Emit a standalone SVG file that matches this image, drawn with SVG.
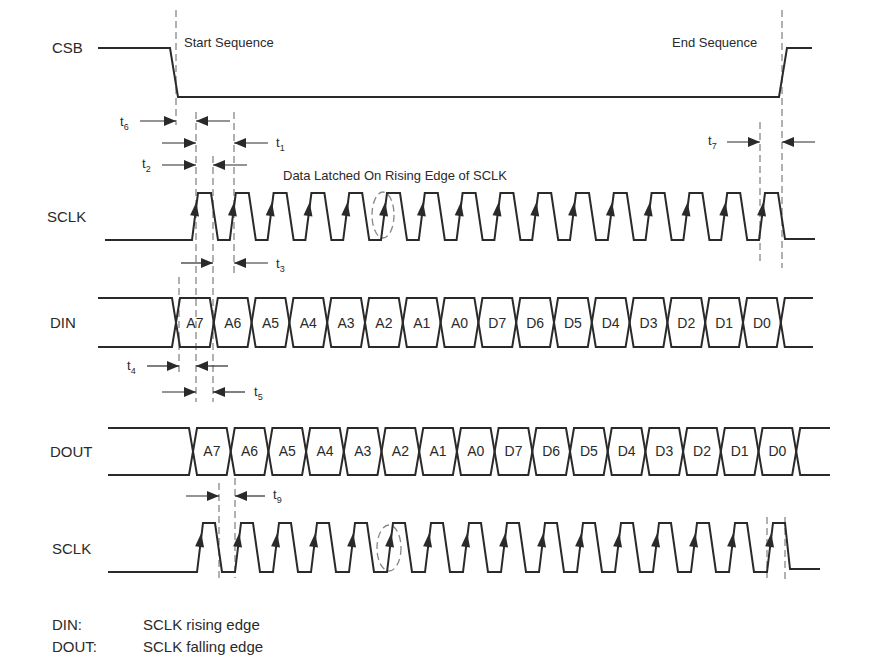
<svg xmlns="http://www.w3.org/2000/svg" width="887" height="663" viewBox="0 0 887 663">
<defs>
<style>
.sig{fill:none;stroke:#2a2a2a;stroke-width:2}
.dash{fill:none;stroke:#888;stroke-width:1.3;stroke-dasharray:7,4}
.dim{fill:none;stroke:#2a2a2a;stroke-width:1.2;marker-end:url(#ah)}
text{font-family:"Liberation Sans",Arial,sans-serif;fill:#2a2a2a}
.lbl{font-size:15px}
.cell{font-size:14px;text-anchor:middle}
.t{font-size:13px}
.sub{font-size:9px}
</style>
<marker id="ah" markerWidth="12" markerHeight="10" refX="12" refY="5" orient="auto" markerUnits="userSpaceOnUse"><path d="M0,0 L12,5 L0,10 Z" fill="#2a2a2a"/></marker>
<path id="up" d="M0,0 L-4.5,14 L4.5,14 Z" fill="#2a2a2a" transform="rotate(7)"/>
</defs>
<rect width="887" height="663" fill="#fff"/>

<g id="labels">
<text class="lbl" x="52" y="53">CSB</text>
<text class="t" x="184" y="47">Start Sequence</text>
<text class="t" x="672" y="47">End Sequence</text>
<text class="lbl" x="47" y="222">SCLK</text>
<text class="lbl" x="50" y="328">DIN</text>
<text class="lbl" x="50" y="457">DOUT</text>
<text class="lbl" x="52" y="554">SCLK</text>
<text class="t" x="283" y="180">Data Latched On Rising Edge of SCLK</text>
<text class="lbl" x="52" y="630">DIN:</text>
<text class="lbl" x="143" y="630">SCLK rising edge</text>
<text class="lbl" x="52" y="652">DOUT:</text>
<text class="lbl" x="143" y="652">SCLK falling edge</text>
</g>

<g id="dashes">
<line class="dash" x1="176" y1="10" x2="176" y2="125"/>
<line class="dash" x1="782" y1="10" x2="782" y2="268"/>
<line class="dash" x1="760" y1="122" x2="760" y2="265"/>
<line class="dash" x1="196" y1="112" x2="196" y2="402"/>
<line class="dash" x1="234" y1="112" x2="234" y2="277"/>
<line class="dash" x1="213" y1="156" x2="213" y2="402"/>
<line class="dash" x1="179" y1="277" x2="179" y2="372"/>
<line class="dash" x1="219" y1="483" x2="219" y2="578"/>
<line class="dash" x1="235" y1="478" x2="235" y2="578"/>
<line class="dash" x1="767" y1="517" x2="767" y2="578"/>
<line class="dash" x1="785" y1="517" x2="785" y2="580"/>
<ellipse class="dash" cx="383" cy="215" rx="11" ry="23"/>
<ellipse class="dash" cx="389" cy="548" rx="12" ry="23"/>
</g>

<g id="connectors">
<line class="dim" x1="140" y1="121" x2="176" y2="121"/>
<line class="dim" x1="230" y1="121" x2="196" y2="121"/>
<line class="dim" x1="162" y1="143" x2="196" y2="143"/>
<line class="dim" x1="268" y1="143" x2="234" y2="143"/>
<line class="dim" x1="162" y1="165" x2="196" y2="165"/>
<line class="dim" x1="247" y1="165" x2="213" y2="165"/>
<line class="dim" x1="181" y1="263" x2="213" y2="263"/>
<line class="dim" x1="268" y1="263" x2="234" y2="263"/>
<line class="dim" x1="147" y1="366" x2="179" y2="366"/>
<line class="dim" x1="228" y1="366" x2="196" y2="366"/>
<line class="dim" x1="162" y1="392" x2="196" y2="392"/>
<line class="dim" x1="245" y1="392" x2="213" y2="392"/>
<line class="dim" x1="727" y1="142" x2="760" y2="142"/>
<line class="dim" x1="815" y1="142" x2="782" y2="142"/>
<line class="dim" x1="186" y1="496" x2="219" y2="496"/>
<line class="dim" x1="265" y1="496" x2="235" y2="496"/>
</g>

<g id="tlabels">
<text class="t" x="120" y="126">t<tspan class="sub" dy="4">6</tspan></text>
<text class="t" x="276" y="147">t<tspan class="sub" dy="4">1</tspan></text>
<text class="t" x="142" y="168">t<tspan class="sub" dy="4">2</tspan></text>
<text class="t" x="276" y="268">t<tspan class="sub" dy="4">3</tspan></text>
<text class="t" x="127" y="370">t<tspan class="sub" dy="4">4</tspan></text>
<text class="t" x="254" y="396">t<tspan class="sub" dy="4">5</tspan></text>
<text class="t" x="708" y="145">t<tspan class="sub" dy="4">7</tspan></text>
<text class="t" x="273" y="499">t<tspan class="sub" dy="4">9</tspan></text>
</g>

<g id="csb">
<path class="sig" d="M98,48 H170 L178,97 H779 L787,48 H812"/>
</g>

<g id="sclk1">
<path class="sig" d="M105,240 H192 l6,-47 h13 l7,47 h11.8 l6,-47 h13 l7,47 h11.8 l6,-47 h13 l7,47 h11.8 l6,-47 h13 l7,47 h11.8 l6,-47 h13 l7,47 h11.8 l6,-47 h13 l7,47 h11.8 l6,-47 h13 l7,47 h11.8 l6,-47 h13 l7,47 h11.8 l6,-47 h13 l7,47 h11.8 l6,-47 h13 l7,47 h11.8 l6,-47 h13 l7,47 h11.8 l6,-47 h13 l7,47 h11.8 l6,-47 h13 l7,47 h11.8 l6,-47 h13 l7,47 h11.8 l6,-47 h13 l7,47 h11.8 l6,-47 h13 l7,46 H815"/>
<g transform="translate(0,202)">
<use href="#up" x="196.3"/><use href="#up" x="234.1"/><use href="#up" x="271.9"/><use href="#up" x="309.7"/><use href="#up" x="347.5"/><use href="#up" x="385.3"/><use href="#up" x="423.1"/><use href="#up" x="460.9"/><use href="#up" x="498.7"/><use href="#up" x="536.5"/><use href="#up" x="574.3"/><use href="#up" x="612.1"/><use href="#up" x="649.9"/><use href="#up" x="687.7"/><use href="#up" x="725.5"/><use href="#up" x="763.3"/>
</g>
</g>

<g id="din">
<path class="sig" d="M98,298 H172 l8,49 h29.8 l8,-49 h29.8 l8,49 h29.8 l8,-49 h29.8 l8,49 h29.8 l8,-49 h29.8 l8,49 h29.8 l8,-49 h29.8 l8,49 h29.8 l8,-49 h29.8 l8,49 h29.8 l8,-49 h29.8 l8,49 h29.8 l8,-49 h29.8 l8,49 h29.8 l8,-49 h29.8 l8,49 H813"/>
<path class="sig" d="M98,347 H172 l8,-49 h29.8 l8,49 h29.8 l8,-49 h29.8 l8,49 h29.8 l8,-49 h29.8 l8,49 h29.8 l8,-49 h29.8 l8,49 h29.8 l8,-49 h29.8 l8,49 h29.8 l8,-49 h29.8 l8,49 h29.8 l8,-49 h29.8 l8,49 h29.8 l8,-49 h29.8 l8,49 h29.8 l8,-49 H813"/>
<text class="cell" x="194.9" y="328">A7</text><text class="cell" x="232.7" y="328">A6</text><text class="cell" x="270.5" y="328">A5</text><text class="cell" x="308.3" y="328">A4</text><text class="cell" x="346.1" y="328">A3</text><text class="cell" x="383.9" y="328">A2</text><text class="cell" x="421.7" y="328">A1</text><text class="cell" x="459.5" y="328">A0</text><text class="cell" x="497.3" y="328">D7</text><text class="cell" x="535.1" y="328">D6</text><text class="cell" x="572.9" y="328">D5</text><text class="cell" x="610.7" y="328">D4</text><text class="cell" x="648.5" y="328">D3</text><text class="cell" x="686.3" y="328">D2</text><text class="cell" x="724.1" y="328">D1</text><text class="cell" x="761.9" y="328">D0</text>
</g>

<g id="dout">
<path class="sig" d="M108,428 H189 l8,47 h29.7 l8,-47 h29.7 l8,47 h29.7 l8,-47 h29.7 l8,47 h29.7 l8,-47 h29.7 l8,47 h29.7 l8,-47 h29.7 l8,47 h29.7 l8,-47 h29.7 l8,47 h29.7 l8,-47 h29.7 l8,47 h29.7 l8,-47 h29.7 l8,47 h29.7 l8,-47 h29.7 l8,47 H830"/>
<path class="sig" d="M108,475 H189 l8,-47 h29.7 l8,47 h29.7 l8,-47 h29.7 l8,47 h29.7 l8,-47 h29.7 l8,47 h29.7 l8,-47 h29.7 l8,47 h29.7 l8,-47 h29.7 l8,47 h29.7 l8,-47 h29.7 l8,47 h29.7 l8,-47 h29.7 l8,47 h29.7 l8,-47 h29.7 l8,47 h29.7 l8,-47 H830"/>
<text class="cell" x="211.9" y="456">A7</text><text class="cell" x="249.6" y="456">A6</text><text class="cell" x="287.3" y="456">A5</text><text class="cell" x="325" y="456">A4</text><text class="cell" x="362.7" y="456">A3</text><text class="cell" x="400.4" y="456">A2</text><text class="cell" x="438.1" y="456">A1</text><text class="cell" x="475.8" y="456">A0</text><text class="cell" x="513.5" y="456">D7</text><text class="cell" x="551.2" y="456">D6</text><text class="cell" x="588.9" y="456">D5</text><text class="cell" x="626.6" y="456">D4</text><text class="cell" x="664.3" y="456">D3</text><text class="cell" x="702" y="456">D2</text><text class="cell" x="739.7" y="456">D1</text><text class="cell" x="777.4" y="456">D0</text>
</g>

<g id="sclk2">
<path class="sig" d="M108,572 H197 l6,-49 h12 l7,49 h13 l6,-49 h12 l7,49 h13 l6,-49 h12 l7,49 h13 l6,-49 h12 l7,49 h13 l6,-49 h12 l7,49 h13 l6,-49 h12 l7,49 h13 l6,-49 h12 l7,49 h13 l6,-49 h12 l7,49 h13 l6,-49 h12 l7,49 h13 l6,-49 h12 l7,49 h13 l6,-49 h12 l7,49 h13 l6,-49 h12 l7,49 h13 l6,-49 h12 l7,49 h13 l6,-49 h12 l7,49 h13 l6,-49 h12 l7,49 h13 l6,-49 h12 l5,46 H820"/>
<g transform="translate(0,533)">
<use href="#up" x="201.3"/><use href="#up" x="239.3"/><use href="#up" x="277.3"/><use href="#up" x="315.3"/><use href="#up" x="353.3"/><use href="#up" x="391.3"/><use href="#up" x="429.3"/><use href="#up" x="467.3"/><use href="#up" x="505.3"/><use href="#up" x="543.3"/><use href="#up" x="581.3"/><use href="#up" x="619.3"/><use href="#up" x="657.3"/><use href="#up" x="695.3"/><use href="#up" x="733.3"/><use href="#up" x="771.3"/>
</g>
</g>
</svg>
